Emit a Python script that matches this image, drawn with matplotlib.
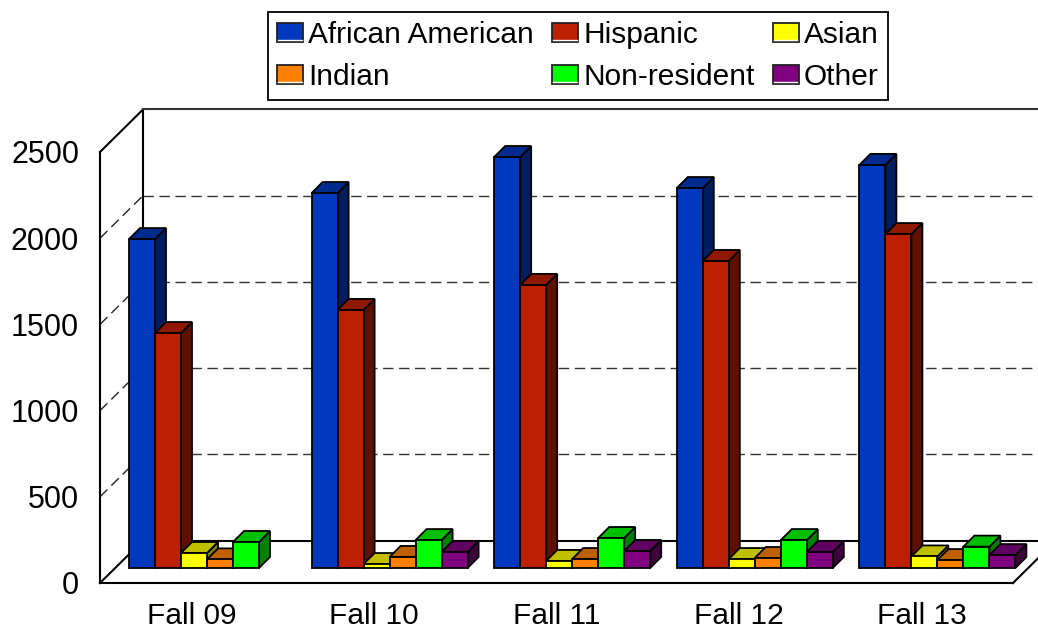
import matplotlib
matplotlib.use("Agg")
import matplotlib.pyplot as plt
from matplotlib.patches import Polygon, Rectangle
from matplotlib.lines import Line2D
from matplotlib.legend_handler import HandlerPatch

plt.rcParams['font.family'] = ['Liberation Sans', 'DejaVu Sans']

terms = ["Fall 09", "Fall 10", "Fall 11", "Fall 12", "Fall 13"]
african_american = [1908, 2175, 2384, 2204, 2338]
hispanic = [1363, 1497, 1642, 1781, 1937]
asian = [87, 23, 41, 52, 67]
indian = [50, 64, 52, 58, 46]
non_resident = [151, 162, 174, 162, 124]
other = [0, 93, 99, 93, 75]
y_ticks = [0, 500, 1000, 1500, 2000, 2500]

series = [
    ("African American", african_american, "#0039BD", "#002B8E", "#001D5F"),
    ("Hispanic", hispanic, "#BD2000", "#8E1800", "#5F1000"),
    ("Asian", asian, "#FFFF00", "#BFBF00", "#808000"),
    ("Indian", indian, "#FF8000", "#BF6000", "#804000"),
    ("Non-resident", non_resident, "#00FF00", "#00BF00", "#008000"),
    ("Other", other, "#800080", "#600060", "#400040"),
]

W, H = 1038, 629
PX_X = 182.6         # pixels for one category
PX_Y = 431 / 2500    # pixels for one unit of value
LEFT, BOTTOM, TOP = 100, 583, 104

# 3d look, sizes in pixels turned into data units
depth_x, depth_y = 43 / PX_X, 42.5 / PX_Y
bar_w = 26 / PX_X
bar_start = 29 / PX_X
bar_base = 15 / PX_Y
ext_x, ext_y = 11 / PX_X, 11 / PX_Y
lw = 1.3

fig = plt.figure(figsize=(W / 100, H / 100), dpi=100)
ax = fig.add_axes([LEFT / W, (H - BOTTOM) / H, (W - LEFT) / W, (BOTTOM - TOP) / H])
ax.set_xlim(0, (W - LEFT) / PX_X)
ax.set_ylim(0, (BOTTOM - TOP) / PX_Y)
for s in ax.spines.values():
    s.set_visible(False)
ax.patch.set_visible(False)

ax.set_yticks(y_ticks)
ax.set_xticks([i + 0.5 for i in range(len(terms))])
ax.set_xticklabels(terms, fontsize=21.5)
ax.tick_params(axis='y', length=0, pad=15, labelsize=22)
ax.tick_params(axis='x', length=0, pad=14)

xmax = ax.get_xlim()[1]
n = len(terms)

# gridlines on the walls, first tick is the floor so skip it
for v in y_ticks[1:-1]:
    ax.plot([0, depth_x], [v, v + depth_y], color="#222222", lw=1, dashes=(7.5, 4), clip_on=False, zorder=1)
    ax.plot([depth_x, xmax], [v + depth_y, v + depth_y], color="#333333", lw=1, dashes=(7.5, 4), zorder=1)

# walls and floor
top = y_ticks[-1]
wall = dict(color="black", lw=1.5, clip_on=False, zorder=2, solid_capstyle='projecting')
ax.plot([0, 0], [0, top], **wall)
ax.plot([0, depth_x], [top, top + depth_y], **wall)
ax.plot([depth_x, depth_x], [depth_y, top + depth_y], **wall)
ax.plot([depth_x, xmax], [top + depth_y, top + depth_y], color="#333333", lw=1.5, clip_on=False, zorder=2)
ax.plot([0, n], [0, 0], **wall)
ax.plot([0, depth_x], [0, depth_y], **wall)
ax.plot([depth_x, xmax], [depth_y, depth_y], **wall)
ax.plot([n, n + depth_x], [0, depth_y], **wall)

# bars left to right, next bar hides the side of the previous one
z = 3
for g in range(n):
    for k, (name, values, front, roof, side) in enumerate(series):
        v = values[g]
        if v == 0:
            continue
        x0 = g + bar_start + k * bar_w
        x1 = x0 + bar_w
        y1 = bar_base + v
        ax.add_patch(Polygon([(x1, bar_base), (x1 + ext_x, bar_base + ext_y), (x1 + ext_x, y1 + ext_y), (x1, y1)],
                             facecolor=side, edgecolor="black", lw=lw, zorder=z))
        ax.add_patch(Polygon([(x0, y1), (x1, y1), (x1 + ext_x, y1 + ext_y), (x0 + ext_x, y1 + ext_y)],
                             facecolor=roof, edgecolor="black", lw=lw, zorder=z))
        ax.bar(x0, v, width=bar_w, bottom=bar_base, align='edge', color=front, edgecolor="black", lw=lw, zorder=z + 0.5)
        z += 1


class BevelHandler(HandlerPatch):
    # legend key with the white bevel along its lower edge
    def create_artists(self, legend, orig, xd, yd, width, height, fontsize, trans):
        box = Rectangle((-xd, -yd), width, height, facecolor=orig.get_facecolor(),
                        edgecolor="#222222", lw=1.3, transform=trans)
        line = Line2D([-xd + 1, -xd + width - 1], [-yd + 1.5, -yd + 1.5], color="white", lw=1.0, transform=trans)
        return [box, line]


handles = [Rectangle((0, 0), 1, 1, facecolor=s[2]) for s in series]
labels = [s[0] for s in series]
# legend fills by column, so reorder to get the rows of the picture
order = [0, 3, 1, 4, 2, 5]
leg = fig.legend([handles[i] for i in order], [labels[i] for i in order], ncol=3,
                 loc='upper left', bbox_to_anchor=(268 / W, 1 - 12 / H),
                 fontsize=21.5, frameon=True, fancybox=False, framealpha=1, edgecolor="black",
                 handler_map={Rectangle: BevelHandler()},
                 handlelength=0.87, handleheight=0.6, handletextpad=0.18, columnspacing=0.6,
                 labelspacing=0.47, borderpad=0.3, borderaxespad=0)
leg.get_frame().set_linewidth(1.3)

fig.savefig("out.png", dpi=100)
